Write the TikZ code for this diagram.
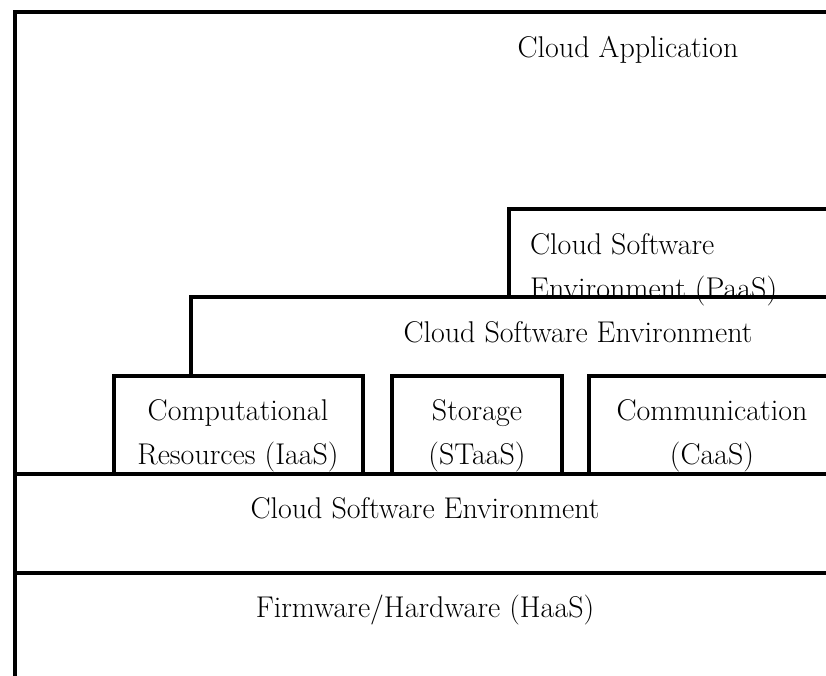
\documentclass[tikz,border=0pt]{standalone}
\usepackage{tikz}
\usetikzlibrary{positioning}

\tikzset{
  layer/.style={line width=3.5pt, line cap=rect},
  label/.style={align=center, font=\fontsize{30}{44}\selectfont, inner sep=0pt}
}

\begin{document}
\begin{tikzpicture}[x=1pt,y=-1pt]
\useasboundingbox (0,0) rectangle (826,675);

% outer frame and horizontal layers
\draw[layer] (15,690) -- (15,12) -- (840,12);
\draw[layer] (15,474) -- (840,474);
\draw[layer] (15,573) -- (840,573);

% platform boxes
\draw[layer] (509,297) -- (509,209) -- (840,209);
\draw[layer] (191,376) -- (191,297) -- (840,297);

% resource boxes
\draw[layer] (114,474) rectangle (363,376);
\draw[layer] (392,474) rectangle (562,376);
\draw[layer] (589,474) -- (589,376) -- (840,376);

\node[label, anchor=base] (app) at (628,57) {Cloud Application};
\node[label, align=left, anchor=base west] (paas) at (530,298) {Cloud Software\\Environment (PaaS)};
\node[label, anchor=base] (env) at (578,342) {Cloud Software Environment};
\node[label, anchor=base] (iaas) at (238,464) {Computational\\Resources (IaaS)};
\node[label, anchor=base] (staas) at (477,464) {Storage\\(STaaS)};
\node[label, anchor=base] (caas) at (712,464) {Communication\\(CaaS)};
\node[label, anchor=base] (kernel) at (425,518) {Cloud Software Environment};
\node[label, anchor=base] (haas) at (425,617) {Firmware/Hardware (HaaS)};
\end{tikzpicture}
\end{document}
